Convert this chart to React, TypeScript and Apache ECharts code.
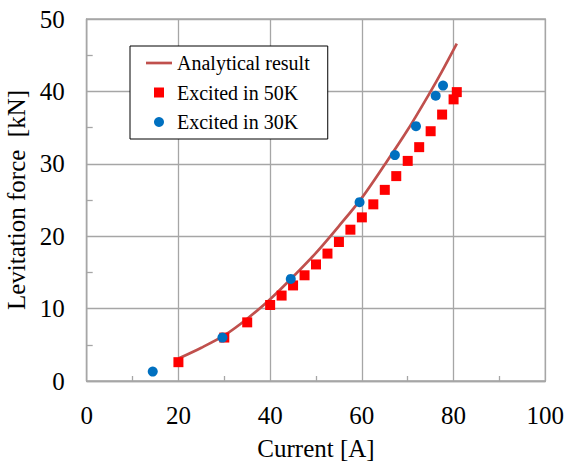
import React, { useEffect, useRef } from "react";
import * as echarts from "echarts";

// Analytical result (line)
const analyticalX = [20, 25, 30, 35, 40, 45, 50, 55, 60, 65, 70, 75, 77.5, 80.7];
const analyticalY = [3.1, 4.6, 6.3, 8.6, 11.3, 14.4, 17.7, 21.4, 25.3, 29.9, 34.7, 40.0, 42.8, 46.6];

// Excited in 50K (red squares)
const k50X = [20, 30, 35, 40, 42.5, 45, 47.5, 50, 52.5, 55, 57.5, 60, 62.5, 65, 67.5, 70, 72.5, 75, 77.5, 80, 80.7];
const k50Y = [2.6, 6.0, 8.1, 10.5, 11.8, 13.2, 14.6, 16.1, 17.6, 19.2, 20.9, 22.6, 24.4, 26.4, 28.3, 30.4, 32.3, 34.5, 36.8, 38.9, 39.9];

// Excited in 30K (blue circles)
const k30X = [14.4, 29.6, 44.5, 59.5, 67.2, 71.8, 76.1, 77.7];
const k30Y = [1.3, 6.0, 14.1, 24.7, 31.2, 35.2, 39.4, 40.8];

const xTicks = [0, 20, 40, 60, 80, 100];
const yTicks = [0, 10, 20, 30, 40, 50];

const FONT = "'Liberation Serif', 'Times New Roman', serif";
const GRID_COLOR = "#a6a6a6";

export default function App() {
  const ref = useRef<HTMLDivElement>(null);
  useEffect(() => {
    if (!ref.current) return;
    const chart = echarts.init(ref.current, undefined, { renderer: "svg" });
    const zip = (xs: number[], ys: number[]) => xs.map((x, i) => [x, ys[i]]);
    chart.setOption({
      animation: false,
      backgroundColor: "#ffffff",
      textStyle: { fontFamily: FONT },
      grid: {
        left: 86.7,
        right: 21.7,
        top: 19,
        bottom: 80,
        containLabel: false,
        outerBoundsMode: "none",
        show: true,
        borderColor: GRID_COLOR,
        borderWidth: 1.3,
        backgroundColor: "transparent",
      },
      legend: {
        orient: "vertical",
        left: 130,
        top: 46,
        padding: [6, 18, 6, 16],
        itemWidth: 26,
        itemHeight: 10,
        itemGap: 7.5,
        symbolKeepAspect: true,
        backgroundColor: "#ffffff",
        borderColor: "#000000",
        borderWidth: 1,
        textStyle: { fontFamily: FONT, fontSize: 20, color: "#000", lineHeight: 22 },
        data: [
          { name: "Analytical result", icon: "path://M0,0L26,0L26,2.7L0,2.7Z", itemStyle: { color: "#c0504d" } },
          { name: "Excited in 50K", icon: "path://M0,0L10,0L10,10L0,10Z", itemStyle: { color: "#ff0000" } },
          { name: "Excited in 30K", icon: "circle", itemStyle: { color: "#0070c0" } },
        ],
      },
      xAxis: {
        type: "value",
        min: xTicks[0],
        max: xTicks[xTicks.length - 1],
        interval: xTicks[1] - xTicks[0],
        name: "Current [A]",
        nameLocation: "middle",
        nameGap: 55,
        nameTextStyle: { fontFamily: FONT, fontSize: 25, color: "#000" },
        axisLine: { show: true, lineStyle: { color: GRID_COLOR, width: 1.3 } },
        axisTick: { show: true, inside: true, length: 5, lineStyle: { color: GRID_COLOR } },
        minorTick: { show: true, splitNumber: 2, length: 5, lineStyle: { color: GRID_COLOR, width: 1.3 } },
        splitLine: { show: true, lineStyle: { color: GRID_COLOR, width: 1.3 } },
        axisLabel: { fontFamily: FONT, fontSize: 25, color: "#000", margin: 22 },
      },
      yAxis: {
        type: "value",
        min: yTicks[0],
        max: yTicks[yTicks.length - 1],
        interval: yTicks[1] - yTicks[0],
        name: "Levitation force  [kN]",
        nameLocation: "middle",
        nameGap: 50,
        nameTextStyle: { fontFamily: FONT, fontSize: 25, color: "#000" },
        axisLine: { show: true, lineStyle: { color: GRID_COLOR, width: 1.3 } },
        axisTick: { show: true, inside: true, length: 6, lineStyle: { color: GRID_COLOR } },
        minorTick: { show: true, splitNumber: 2, length: 6, lineStyle: { color: GRID_COLOR, width: 1.3 } },
        splitLine: { show: true, lineStyle: { color: GRID_COLOR, width: 1.3 } },
        axisLabel: { fontFamily: FONT, fontSize: 25, color: "#000", margin: 22 },
      },
      series: [
        {
          name: "Analytical result",
          type: "line",
          data: zip(analyticalX, analyticalY),
          symbol: "none",
          smooth: 0.3,
          lineStyle: { color: "#c0504d", width: 2.7 },
          itemStyle: { color: "#c0504d" },
          z: 2,
        },
        {
          name: "Excited in 50K",
          type: "scatter",
          data: zip(k50X, k50Y),
          symbol: "rect",
          symbolSize: 10,
          itemStyle: { color: "#ff0000", opacity: 1 },
          z: 3,
        },
        {
          name: "Excited in 30K",
          type: "scatter",
          data: zip(k30X, k30Y),
          symbol: "circle",
          symbolSize: 10,
          itemStyle: { color: "#0070c0", opacity: 1 },
          z: 4,
        },
      ],
    });
    return () => chart.dispose();
  }, []);
  return (
    <div
      ref={ref}
      style={{ position: "fixed", left: 0, top: 0, width: 567, height: 461 }}
    />
  );
}
